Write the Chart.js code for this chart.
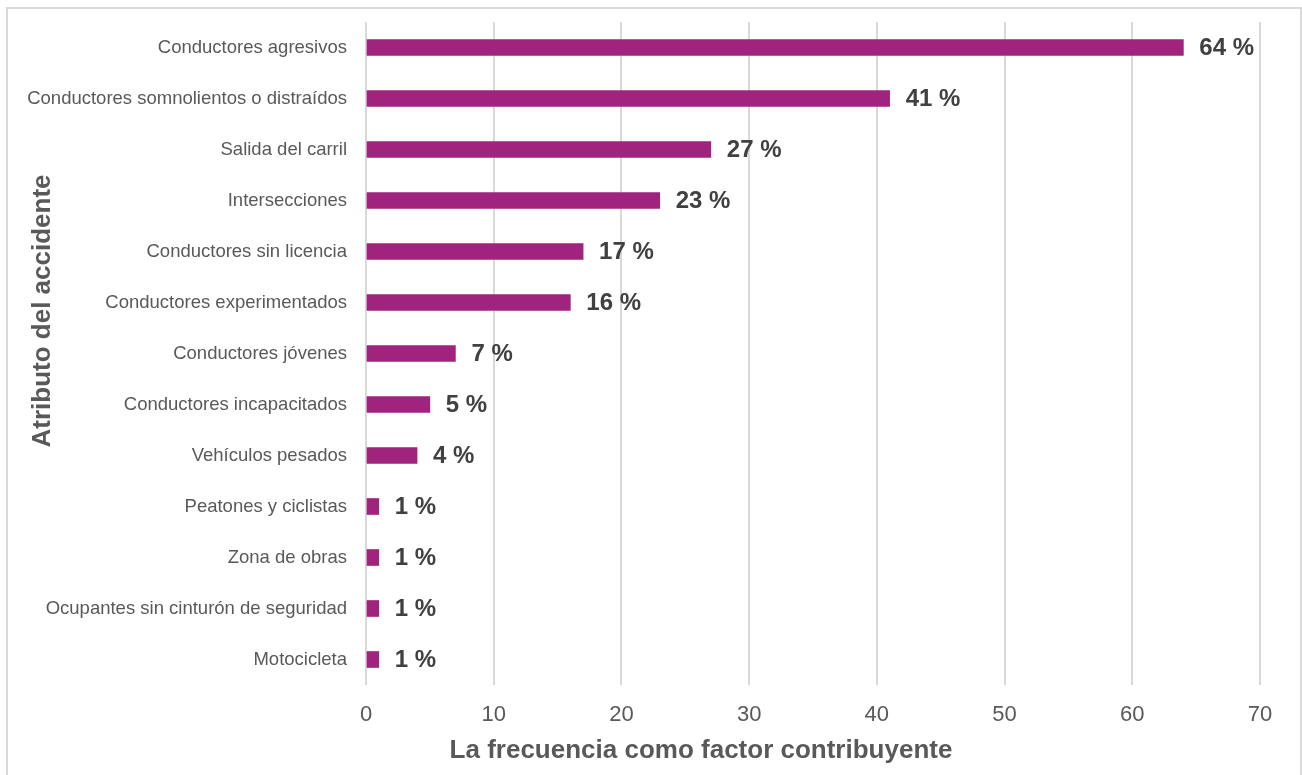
<!DOCTYPE html>
<html lang="es">
<head>
  <meta charset="UTF-8">
  <title>Atributo del accidente</title>
  <script src="https://cdn.jsdelivr.net/npm/chart.js"></script>
  <style>
    html, body { margin: 0; padding: 0; background: #fff; overflow: hidden; }
    #frame {
      position: absolute; left: 6px; top: 7px; width: 1296px; height: 800px;
      border: 2px solid #d9d9d9; box-sizing: border-box;
    }
    #accChart { position: absolute; left: 0; top: 0; }
  </style>
</head>
<body>
  <div id="frame"></div>
  <canvas id="accChart" width="1302" height="775"></canvas>

<script>
// categorias (de arriba hacia abajo) y su frecuencia en %
const categorias = [
  'Conductores agresivos',
  'Conductores somnolientos o distraídos',
  'Salida del carril',
  'Intersecciones',
  'Conductores sin licencia',
  'Conductores experimentados',
  'Conductores jóvenes',
  'Conductores incapacitados',
  'Vehículos pesados',
  'Peatones y ciclistas',
  'Zona de obras',
  'Ocupantes sin cinturón de seguridad',
  'Motocicleta'
];
const frecuencia = [64, 41, 27, 23, 17, 16, 7, 5, 4, 1, 1, 1, 1];
const ejeX = [0, 10, 20, 30, 40, 50, 60, 70];

const tituloX = 'La frecuencia como factor contribuyente';
const tituloY = 'Atributo del accidente';

const FONT = '"Liberation Sans", Arial, sans-serif';

// etiquetas "NN %" al final de cada barra + titulos de ejes
const etiquetas = {
  id: 'etiquetas',
  afterDatasetsDraw(chart) {
    const ctx = chart.ctx;
    const meta = chart.getDatasetMeta(0);
    ctx.save();
    ctx.font = 'bold 24px ' + FONT;
    ctx.fillStyle = '#404040';
    ctx.textAlign = 'left';
    ctx.textBaseline = 'middle';
    meta.data.forEach((bar, i) => {
      ctx.fillText(frecuencia[i] + ' %', bar.x + 16, bar.y + 1);
    });
    ctx.restore();
  },
  afterDraw(chart) {
    const ctx = chart.ctx;
    ctx.save();
    ctx.font = 'bold 26px ' + FONT;
    ctx.fillStyle = '#595959';
    ctx.textAlign = 'center';
    ctx.textBaseline = 'middle';
    ctx.fillText(tituloX, 701, 751);
    ctx.translate(43, 311);
    ctx.rotate(-Math.PI / 2);
    ctx.fillText(tituloY, 0, 0);
    ctx.restore();
  }
};

new Chart(document.getElementById('accChart'), {
  type: 'bar',
  data: {
    labels: categorias,
    datasets: [{
      data: frecuencia,
      backgroundColor: '#A0237E',
      barThickness: 16
    }]
  },
  options: {
    indexAxis: 'y',
    responsive: false,
    animation: false,
    layout: { padding: { left: 0, right: 42, top: 22, bottom: 0 } },
    plugins: {
      legend: { display: false },
      tooltip: { enabled: false }
    },
    scales: {
      x: {
        min: ejeX[0],
        max: ejeX[ejeX.length - 1],
        afterBuildTicks(axis) { axis.ticks = ejeX.map(v => ({ value: v })); },
        afterFit(axis) { axis.height = 90; axis.paddingLeft = 0; axis.paddingRight = 0; },
        grid: { color: '#d9d9d9', lineWidth: 2, drawTicks: false },
        border: { display: false },
        ticks: { padding: 17, color: '#595959', font: { family: FONT, size: 22 } }
      },
      y: {
        afterFit(axis) { axis.width = 366; axis.paddingTop = 0; axis.paddingBottom = 0; },
        grid: { display: false, drawTicks: false },
        border: { display: false },
        ticks: { padding: 19, color: '#595959', font: { family: FONT, size: 18.5 } }
      }
    }
  },
  plugins: [etiquetas]
});
</script>
</body>
</html>
